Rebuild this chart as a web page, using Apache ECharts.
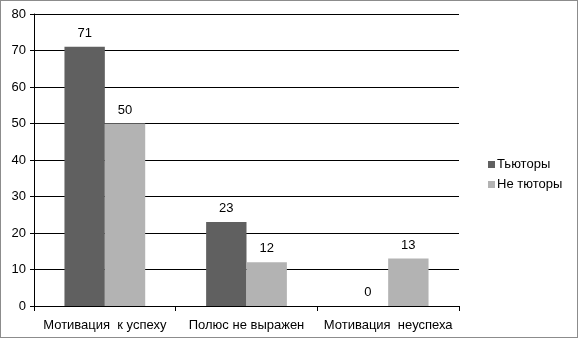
<!DOCTYPE html>
<html>
<head>
<meta charset="utf-8">
<script src="https://cdn.jsdelivr.net/npm/echarts@6/dist/echarts.min.js"></script>
<style>
  html, body { margin: 0; padding: 0; background: #fff; }
  #chart { width: 578px; height: 338px; box-sizing: border-box; border: 1px solid #8c8c8c; }
</style>
</head>
<body>
<div id="chart"></div>
<script>
const categories = ['Мотивация  к успеху', 'Полюс не выражен', 'Мотивация  неуспеха']
const tutors = [71, 23, 0]
const nonTutors = [50, 12, 13]
const seriesNames = ['Тьюторы', 'Не тюторы']

const chart = echarts.init(document.getElementById('chart'))
const font = 'Liberation Sans, Arial, sans-serif'

const option = {
  animation: false,
  textStyle: { fontFamily: font },
  grid: { left: 33, right: 118, top: 13, bottom: 31 },
  legend: {
    orient: 'vertical',
    left: 482,
    top: 152,
    itemWidth: 7,
    itemHeight: 7,
    itemGap: 7,
    icon: 'rect',
    textStyle: { fontSize: 13, color: '#000', fontFamily: font, padding: [0, 0, 0, -3] },
    data: seriesNames
  },
  xAxis: {
    type: 'category',
    data: categories,
    axisLine: { lineStyle: { color: '#000', width: 1 } },
    axisTick: { show: true, length: 5, lineStyle: { color: '#000' } },
    axisLabel: { color: '#000', fontSize: 13, margin: 13, interval: 0, hideOverlap: false, fontFamily: font }
  },
  yAxis: {
    type: 'value',
    min: 0,
    max: 80,
    interval: 10,
    axisLine: { show: true, lineStyle: { color: '#000', width: 1 } },
    axisTick: { show: true, length: 4, lineStyle: { color: '#000' } },
    axisLabel: { color: '#000', fontSize: 13, margin: 8, fontFamily: font },
    splitLine: { show: true, lineStyle: { color: '#000', width: 1 } }
  },
  series: [
    {
      name: seriesNames[0],
      type: 'bar',
      data: tutors,
      barGap: '0%',
      barCategoryGap: '43%',
      itemStyle: { color: '#606060' },
      label: { show: true, position: 'top', distance: 7, color: '#000', fontSize: 13, fontFamily: font }
    },
    {
      name: seriesNames[1],
      type: 'bar',
      data: nonTutors,
      barGap: '0%',
      barCategoryGap: '43%',
      itemStyle: { color: '#b3b3b3' },
      label: { show: true, position: 'top', distance: 7, color: '#000', fontSize: 13, fontFamily: font }
    }
  ]
}
chart.setOption(option)
</script>
</body>
</html>
